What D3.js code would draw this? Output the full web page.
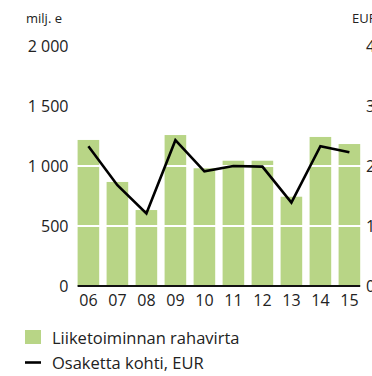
<!DOCTYPE html>
<html>
<head>
<meta charset="utf-8">
<script src="https://cdn.jsdelivr.net/npm/d3@7"></script>
<style>
  html, body { margin: 0; padding: 0; background: #fff; overflow: hidden; }
  svg text { font-family: "Open Sans", Lato, sans-serif; fill: #222; }
</style>
</head>
<body>
<svg id="chart" width="372" height="376"></svg>
<script>
// Vuodet, liiketoiminnan rahavirta (milj. e) ja osakekohtainen arvo (EUR)
const years = ["06", "07", "08", "09", "10", "11", "12", "13", "14", "15"];
const cashFlow = [1217, 867, 633, 1258, 981, 1044, 1044, 744, 1242, 1183];
const perShare = [2.33, 1.68, 1.21, 2.43, 1.91, 2.0, 1.99, 1.39, 2.33, 2.23];
const leftTicks = [0, 500, 1000, 1500, 2000];
const rightTicks = [0, 1, 2, 3, 4];
const legendLabels = ["Liiketoiminnan rahavirta", "Osaketta kohti, EUR"];

const barColor = "#b8d586";
const svg = d3.select("#chart");

const x = d3.scaleBand()
  .domain(years)
  .range([73.9, 363.9])
  .paddingInner(0.255)
  .paddingOuter(0.1275);

const yLeft = d3.scaleLinear().domain([0, 2000]).range([286, 46]);
const yRight = d3.scaleLinear().domain([0, 4]).range([286, 46]);

// Pylväät
svg.append("g")
  .selectAll("rect")
  .data(years)
  .join("rect")
  .attr("x", d => x(d))
  .attr("width", x.bandwidth())
  .attr("y", (d, i) => yLeft(cashFlow[i]))
  .attr("height", (d, i) => yLeft(0) - yLeft(cashFlow[i]))
  .attr("fill", barColor);

// Valkoiset apuviivat pylväiden läpi
svg.append("g")
  .selectAll("line")
  .data(leftTicks.filter(t => t > 0))
  .join("line")
  .attr("x1", x.range()[0])
  .attr("x2", x.range()[1])
  .attr("y1", d => yLeft(d))
  .attr("y2", d => yLeft(d))
  .attr("stroke", "#fff")
  .attr("stroke-width", 2);

// Vasen akseli
const leftAxis = svg.append("g")
  .attr("transform", "translate(68.5,0)")
  .call(d3.axisLeft(yLeft).tickValues(leftTicks).tickSize(0).tickPadding(0)
    .tickFormat(d => d3.format(",")(d).replace(/,/g, " ")));
leftAxis.select(".domain").remove();
leftAxis.selectAll("text")
  .attr("font-size", 16)
  .attr("dy", "0.36em")
  .style("white-space", "pre")
  .attr("xml:space", "preserve");

// Oikea akseli
const rightAxis = svg.append("g")
  .attr("transform", "translate(366,0)")
  .call(d3.axisRight(yRight).tickValues(rightTicks).tickSize(0).tickPadding(0)
    .tickFormat(d3.format("d")));
rightAxis.select(".domain").remove();
rightAxis.selectAll("text")
  .attr("font-size", 16)
  .attr("dy", "0.36em");

// Vaaka-akseli
const xAxis = svg.append("g")
  .attr("transform", "translate(0,286)")
  .call(d3.axisBottom(x).tickSize(0).tickPadding(9));
xAxis.select(".domain")
  .attr("d", `M${x(years[0])},0H${x(years[years.length - 1]) + x.bandwidth()}`)
  .attr("stroke", "#111")
  .attr("stroke-width", 2);
xAxis.selectAll("text")
  .attr("font-size", 16)
  .attr("dy", "0.71em");

// Yksiköt
svg.append("text").attr("x", 26).attr("y", 23).attr("font-size", 13).text("milj. e");
svg.append("text").attr("x", 352).attr("y", 23).attr("font-size", 13).text("EUR");

// Osakekohtainen viiva
const line = d3.line()
  .x((d, i) => x(years[i]) + x.bandwidth() / 2)
  .y(d => yRight(d));
svg.append("path")
  .datum(perShare)
  .attr("d", line)
  .attr("fill", "none")
  .attr("stroke", "#000")
  .attr("stroke-width", 2.6)
  .attr("stroke-linejoin", "miter");

// Selite
const legend = svg.append("g");
legend.append("rect")
  .attr("x", 25).attr("y", 330).attr("width", 16).attr("height", 14)
  .attr("fill", barColor);
legend.append("line")
  .attr("x1", 25).attr("x2", 41).attr("y1", 362.5).attr("y2", 362.5)
  .attr("stroke", "#000").attr("stroke-width", 2.6);
legend.selectAll("text")
  .data(legendLabels)
  .join("text")
  .attr("x", 52)
  .attr("y", (d, i) => 344 + i * 24.5)
  .attr("font-size", 16.5)
  .text(d => d);
</script>
</body>
</html>
